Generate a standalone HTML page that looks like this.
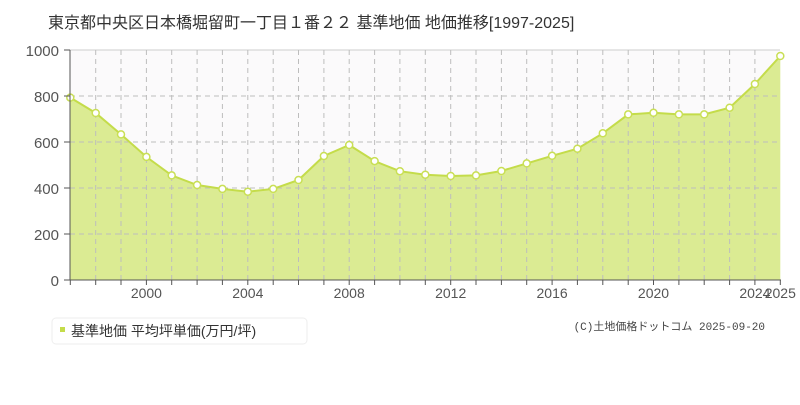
<!DOCTYPE html><html><head><meta charset="utf-8"><style>body{margin:0;background:#fff;width:800px;height:400px;overflow:hidden}</style></head><body>
<svg width="800" height="400" xmlns="http://www.w3.org/2000/svg" font-family="Liberation Sans, Noto Sans CJK JP, sans-serif">
<text x="48" y="28" font-size="16" fill="#333">東京都中央区日本橋堀留町一丁目１番２２ 基準地価 地価推移[1997-2025]</text>
<rect x="70" y="50" width="710" height="230" fill="#fbfafb"/>
<line x1="70" y1="50" x2="780" y2="50" stroke="#ddd" stroke-width="1.5"/>
<polygon points="70.3,280 70.3,97.6 95.7,113.0 121.0,134.4 146.4,156.9 171.7,175.4 197.1,185.0 222.4,188.9 247.8,191.7 273.2,188.9 298.5,180.0 323.9,156.0 349.2,145.0 374.6,161.1 399.9,171.2 425.3,174.7 450.7,176.0 476.0,175.4 501.4,171.0 526.7,163.4 552.1,155.8 577.4,148.7 602.8,133.3 628.2,114.4 653.5,112.8 678.9,114.4 704.2,114.4 729.6,107.7 754.9,84.0 780.3,56.0 780.3,280" fill="#dbeb93"/>
<g stroke="#bdbdbd" stroke-dasharray="5,4" stroke-width="1">
<line x1="70" y1="234" x2="780" y2="234"/><line x1="70" y1="188" x2="780" y2="188"/><line x1="70" y1="142" x2="780" y2="142"/><line x1="70" y1="96" x2="780" y2="96"/>
<line x1="95.7" y1="50" x2="95.7" y2="280"/><line x1="121.0" y1="50" x2="121.0" y2="280"/><line x1="146.4" y1="50" x2="146.4" y2="280"/><line x1="171.7" y1="50" x2="171.7" y2="280"/><line x1="197.1" y1="50" x2="197.1" y2="280"/><line x1="222.4" y1="50" x2="222.4" y2="280"/><line x1="247.8" y1="50" x2="247.8" y2="280"/><line x1="273.2" y1="50" x2="273.2" y2="280"/><line x1="298.5" y1="50" x2="298.5" y2="280"/><line x1="323.9" y1="50" x2="323.9" y2="280"/><line x1="349.2" y1="50" x2="349.2" y2="280"/><line x1="374.6" y1="50" x2="374.6" y2="280"/><line x1="399.9" y1="50" x2="399.9" y2="280"/><line x1="425.3" y1="50" x2="425.3" y2="280"/><line x1="450.7" y1="50" x2="450.7" y2="280"/><line x1="476.0" y1="50" x2="476.0" y2="280"/><line x1="501.4" y1="50" x2="501.4" y2="280"/><line x1="526.7" y1="50" x2="526.7" y2="280"/><line x1="552.1" y1="50" x2="552.1" y2="280"/><line x1="577.4" y1="50" x2="577.4" y2="280"/><line x1="602.8" y1="50" x2="602.8" y2="280"/><line x1="628.2" y1="50" x2="628.2" y2="280"/><line x1="653.5" y1="50" x2="653.5" y2="280"/><line x1="678.9" y1="50" x2="678.9" y2="280"/><line x1="704.2" y1="50" x2="704.2" y2="280"/><line x1="729.6" y1="50" x2="729.6" y2="280"/><line x1="754.9" y1="50" x2="754.9" y2="280"/>
</g>
<polyline points="70.3,97.6 95.7,113.0 121.0,134.4 146.4,156.9 171.7,175.4 197.1,185.0 222.4,188.9 247.8,191.7 273.2,188.9 298.5,180.0 323.9,156.0 349.2,145.0 374.6,161.1 399.9,171.2 425.3,174.7 450.7,176.0 476.0,175.4 501.4,171.0 526.7,163.4 552.1,155.8 577.4,148.7 602.8,133.3 628.2,114.4 653.5,112.8 678.9,114.4 704.2,114.4 729.6,107.7 754.9,84.0 780.3,56.0" fill="none" stroke="#c4dc4a" stroke-width="2"/>
<g fill="#fff" stroke="#c9df55" stroke-width="1.5">
<circle cx="70.3" cy="97.6" r="3.5"/><circle cx="95.7" cy="113.0" r="3.5"/><circle cx="121.0" cy="134.4" r="3.5"/><circle cx="146.4" cy="156.9" r="3.5"/><circle cx="171.7" cy="175.4" r="3.5"/><circle cx="197.1" cy="185.0" r="3.5"/><circle cx="222.4" cy="188.9" r="3.5"/><circle cx="247.8" cy="191.7" r="3.5"/><circle cx="273.2" cy="188.9" r="3.5"/><circle cx="298.5" cy="180.0" r="3.5"/><circle cx="323.9" cy="156.0" r="3.5"/><circle cx="349.2" cy="145.0" r="3.5"/><circle cx="374.6" cy="161.1" r="3.5"/><circle cx="399.9" cy="171.2" r="3.5"/><circle cx="425.3" cy="174.7" r="3.5"/><circle cx="450.7" cy="176.0" r="3.5"/><circle cx="476.0" cy="175.4" r="3.5"/><circle cx="501.4" cy="171.0" r="3.5"/><circle cx="526.7" cy="163.4" r="3.5"/><circle cx="552.1" cy="155.8" r="3.5"/><circle cx="577.4" cy="148.7" r="3.5"/><circle cx="602.8" cy="133.3" r="3.5"/><circle cx="628.2" cy="114.4" r="3.5"/><circle cx="653.5" cy="112.8" r="3.5"/><circle cx="678.9" cy="114.4" r="3.5"/><circle cx="704.2" cy="114.4" r="3.5"/><circle cx="729.6" cy="107.7" r="3.5"/><circle cx="754.9" cy="84.0" r="3.5"/><circle cx="780.3" cy="56.0" r="3.5"/>
</g>
<g stroke="#555" stroke-width="1">
<line x1="70" y1="50" x2="70" y2="280"/><line x1="70" y1="280" x2="781" y2="280"/>
<line x1="64" y1="50" x2="70" y2="50"/><line x1="64" y1="96" x2="70" y2="96"/><line x1="64" y1="142" x2="70" y2="142"/><line x1="64" y1="188" x2="70" y2="188"/><line x1="64" y1="234" x2="70" y2="234"/><line x1="64" y1="280" x2="70" y2="280"/>
<line x1="70.3" y1="280" x2="70.3" y2="285"/><line x1="95.7" y1="280" x2="95.7" y2="285"/><line x1="121.0" y1="280" x2="121.0" y2="285"/><line x1="146.4" y1="280" x2="146.4" y2="285"/><line x1="171.7" y1="280" x2="171.7" y2="285"/><line x1="197.1" y1="280" x2="197.1" y2="285"/><line x1="222.4" y1="280" x2="222.4" y2="285"/><line x1="247.8" y1="280" x2="247.8" y2="285"/><line x1="273.2" y1="280" x2="273.2" y2="285"/><line x1="298.5" y1="280" x2="298.5" y2="285"/><line x1="323.9" y1="280" x2="323.9" y2="285"/><line x1="349.2" y1="280" x2="349.2" y2="285"/><line x1="374.6" y1="280" x2="374.6" y2="285"/><line x1="399.9" y1="280" x2="399.9" y2="285"/><line x1="425.3" y1="280" x2="425.3" y2="285"/><line x1="450.7" y1="280" x2="450.7" y2="285"/><line x1="476.0" y1="280" x2="476.0" y2="285"/><line x1="501.4" y1="280" x2="501.4" y2="285"/><line x1="526.7" y1="280" x2="526.7" y2="285"/><line x1="552.1" y1="280" x2="552.1" y2="285"/><line x1="577.4" y1="280" x2="577.4" y2="285"/><line x1="602.8" y1="280" x2="602.8" y2="285"/><line x1="628.2" y1="280" x2="628.2" y2="285"/><line x1="653.5" y1="280" x2="653.5" y2="285"/><line x1="678.9" y1="280" x2="678.9" y2="285"/><line x1="704.2" y1="280" x2="704.2" y2="285"/><line x1="729.6" y1="280" x2="729.6" y2="285"/><line x1="754.9" y1="280" x2="754.9" y2="285"/><line x1="780.3" y1="280" x2="780.3" y2="285"/>
</g>
<g font-size="15" fill="#555" text-anchor="end">
<text x="59" y="56">1000</text><text x="59" y="102">800</text><text x="59" y="148">600</text><text x="59" y="194">400</text><text x="59" y="240">200</text><text x="59" y="286">0</text>
</g>
<g font-size="14" fill="#555" text-anchor="middle">
<text x="146.4" y="298">2000</text><text x="247.8" y="298">2004</text><text x="349.2" y="298">2008</text><text x="450.7" y="298">2012</text><text x="552.1" y="298">2016</text><text x="653.5" y="298">2020</text><text x="754.9" y="298">2024</text><text x="780.3" y="298">2025</text>
</g>
<rect x="52" y="318" width="255" height="26" rx="4" fill="#fff" stroke="#eee"/>
<rect x="60" y="327" width="5" height="5" fill="#c4dc4a"/>
<text x="71" y="336" font-size="14" fill="#333">基準地価 平均坪単価(万円/坪)</text>
<text x="765" y="330" font-size="11" fill="#444" text-anchor="end" font-family="Liberation Mono, Noto Sans CJK JP, monospace">(C)土地価格ドットコム 2025-09-20</text>
</svg></body></html>
